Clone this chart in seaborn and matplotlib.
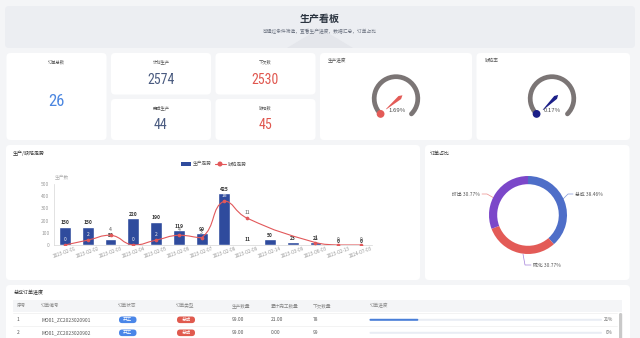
import numpy as np
import pandas as pd
import matplotlib
matplotlib.use('Agg')
import matplotlib.pyplot as plt
import seaborn as sns
from matplotlib.patches import FancyBboxPatch, Arc, Circle, Polygon, Rectangle, PathPatch
from matplotlib.path import Path
from matplotlib import font_manager

sns.set_theme(style='white')
plt.rcParams['font.family'] = ['Noto Sans CJK SC', 'DejaVu Sans']

# ---------------- data ----------------
page_title = '生产看板'
page_subtitle = '可通过条件筛选，查看生产进度，数据汇总，订单占比'
kpi_labels = ['订单总数', '计划生产', '下欠数', '完成生产', '缺陷数']
kpi_values = [26, 2574, 2530, 44, 45]
gauge_labels = ['生产进度', '缺陷率']
gauge_values = [1.69, 0.17]
trend_title = '生产/缺陷走势'
series_names = ['生产走势', '缺陷走势']
y_axis_name = '生产数'
dates = ['2023-02-01', '2023-02-02', '2023-02-03', '2023-02-04', '2023-02-05',
         '2023-02-06', '2023-02-07', '2023-02-08', '2023-02-09', '2023-02-14',
         '2023-03-09', '2023-06-03', '2023-02-13', '2024-07-03']
production = [150, 150, 50, 220, 190, 119, 99, 425, 11, 50, 23, 21, 0, 0]
defects = [0, 2, 4, 0, 2, 4, 3, 18, 11, np.nan, np.nan, 1, 0, 0]
share_title = '订单占比'
order_types = ['总成', '挤出', '硫化']
order_share = [38.46, 30.77, 30.77]
table_title = '总成订单进度'
table_columns = ['序号', '订单编号', '订单状态', '订单类型', '生产数量', '累计完工数量', '下欠数量', '订单进度']
row_no = [1, 2]
order_codes = ['MO01_ZC2023020901', 'MO01_ZC2023020902']
order_status = ['开工', '开工']
order_kind = ['总成', '总成']
qty_plan = [99.00, 99.00]
qty_done = [21.00, 0.00]
qty_left = [78, 99]
progress_pct = [21, 0]

# ---------------- layout helpers ----------------
W, H = 640, 338
fig = plt.figure(figsize=(6.4, 3.38), dpi=100)
fig.patch.set_facecolor('#f4f5f7')
bg = fig.add_axes([0, 0, 1, 1])
bg.set_xlim(0, W)
bg.set_ylim(H, 0)
bg.axis('off')


def px_axes(x0, y0, w, h):
    return fig.add_axes([x0 / W, 1 - (y0 + h) / H, w / W, h / H])


def panel(x0, y0, x1, y1, fc='white', r=4):
    bg.add_patch(FancyBboxPatch((x0, y0), x1 - x0, y1 - y0,
                                boxstyle=f'round,pad=0,rounding_size={r}',
                                fc=fc, ec='none', zorder=1))


TXT = '#555555'
names = {f.name for f in font_manager.fontManager.ttflist}
narrow = [n for n in ['Liberation Sans Narrow', 'Roboto Condensed', 'Open Sans Condensed',
                      'DejaVu Sans Condensed', 'Noto Sans Display'] if n in names]
NUMFONT = narrow + ['DejaVu Sans']

# ---------------- header ----------------
panel(5, 6, 635, 48, fc='#eceef2')
bg.add_patch(Polygon([(287, 48), (320, 28), (353, 48)], closed=True,
                     fc='#e4e6eb', ec='none', zorder=1.5))
bg.text(320, 19, page_title, ha='center', va='center', fontsize=7.2,
        fontweight='bold', color='#2b3440', zorder=3)
bg.text(320, 31, page_subtitle, ha='center', va='center', fontsize=3.4,
        color='#6b7280', zorder=3)

# ---------------- KPI cards ----------------
cards = [(6.5, 53, 106.5, 140), (111, 53, 211, 94.5), (215.5, 53, 315.5, 94.5),
         (111, 99, 211, 140), (215.5, 99, 315.5, 140)]
title_y = [62, 62, 62, 108, 108]
value_y = [101.5, 79.5, 79.5, 125, 125]
kpi_colors = ['#4b86e0', '#4a5b80', '#e0574f', '#4a5b80', '#e0574f']
kpi_sizes = [12, 10, 10, 10, 10]
for (x0, y0, x1, y1), lab, val, ty, vy, col, fs in zip(
        cards, kpi_labels, kpi_values, title_y, value_y, kpi_colors, kpi_sizes):
    panel(x0, y0, x1, y1)
    cx = (x0 + x1) / 2
    bg.text(cx, ty, lab, ha='center', va='center', fontsize=3.1, color=TXT, zorder=3)
    bg.text(cx, vy, f'{val}', ha='center', va='center', fontsize=fs,
            color=col, family=NUMFONT, fontstretch='condensed', zorder=3)

# ---------------- gauges ----------------
gauge_cards = [(320, 53, 472, 140), (476.5, 53, 630, 140)]
gauge_centers = [(396, 98.5), (552, 98.5)]
gauge_colors = ['#e35b57', '#1b1f88']
for (x0, y0, x1, y1), lab, val, (cx, cy), col in zip(
        gauge_cards, gauge_labels, gauge_values, gauge_centers, gauge_colors):
    panel(x0, y0, x1, y1)
    bg.text(x0 + 8, 60.5, lab, ha='left', va='center', fontsize=3.3, color=TXT, zorder=3)
    gx = px_axes(cx - 30, cy - 30, 60, 60)
    gx.set_xlim(-30, 30)
    gx.set_ylim(-30, 30)
    gx.axis('off')
    R = 21.8
    gx.add_patch(Arc((0, 0), 2 * R, 2 * R, theta1=-45, theta2=225, lw=3.4,
                     color='#7b7575', capstyle='round'))
    gx.add_patch(Circle((R * np.cos(np.radians(225)), R * np.sin(np.radians(225))),
                        3.2, color=col, zorder=4))
    ang = np.radians(225 - val / 100 * 270)
    u = np.array([np.cos(ang), np.sin(ang)])
    n = np.array([-u[1], u[0]])
    base = np.array([1.5, -1.0])
    pts = [base + u * -6.5, base + u * -3 + n * 2.0, base + u * 14.5 + n * 0.3,
           base + u * 15, base + u * 14.5 - n * 0.3, base + u * -3 - n * 2.0]
    gx.add_patch(Polygon(pts, closed=True, fc=col, ec='none', zorder=5))
    gx.text(0.8, -11.5, f'{val:.2f}%', ha='center', va='center', fontsize=4.3,
            color='#4a4a4a', zorder=6)

# ---------------- trend chart ----------------
panel(6, 145, 420, 280)
bg.text(13, 153.3, trend_title, ha='left', va='center', fontsize=3.6, color='#333333', zorder=3)
BAR = '#2f4b9d'
RED = '#e2585a'
bg.add_patch(Rectangle((181, 161.8), 10, 4.6, fc=BAR, ec='none', zorder=3))
bg.text(193, 164, series_names[0], ha='left', va='center', fontsize=3.4, color=TXT, zorder=3)
bg.plot([214.5, 225.5], [164, 164], color=RED, lw=0.8, zorder=3)
bg.add_patch(Circle((220, 164), 1.8, color=RED, zorder=4))
bg.text(228, 164, series_names[1], ha='left', va='center', fontsize=3.4, color=TXT, zorder=3)
bg.text(62, 178, y_axis_name, ha='center', va='center', fontsize=3.4, color='#b0b0b0', zorder=3)

df = pd.DataFrame({'date': dates, 'production': production, 'defects': defects})
ax = px_axes(53.6, 184, 318.8, 61)
ax.set_facecolor('none')
sns.barplot(data=df, x='date', y='production', color=BAR, saturation=1,
            width=0.52, ax=ax)
ax.set_ylim(0, 500)
ax.set_xlim(-0.5, len(dates) - 0.5)
ax.set_yticks(range(0, 501, 100))
ax.set_xlabel('')
ax.set_ylabel('')
for s in ['top', 'right']:
    ax.spines[s].set_visible(False)
for s in ['left', 'bottom']:
    ax.spines[s].set_color('#d6d6d6')
    ax.spines[s].set_linewidth(0.5)
ax.tick_params(axis='y', length=0, pad=3, labelsize=3.5, labelcolor='#999999')
ax.tick_params(axis='x', length=0, pad=0.5, labelsize=3.4, labelcolor='#999999')
for lab in ax.get_xticklabels():
    lab.set_rotation(20)
    lab.set_ha('center')
ax.bar_label(ax.containers[0], labels=[f'{v}' for v in production], padding=1,
             fontsize=3.6, fontweight='bold', color='#333333')

ax2 = ax.twinx()
ax2.set_ylim(0, 25)
valid = ~np.isnan(np.array(defects, dtype=float))
xs = np.arange(len(dates))[valid].astype(float)
ys = np.array(defects, dtype=float)[valid]
sx, sy = 318.8 / len(dates), 61 / 25
P = np.column_stack([xs * sx, ys * sy])
cps = []
for i in range(len(P)):
    prev = P[i - 1] if i > 0 else P[i]
    nxt = P[i + 1] if i < len(P) - 1 else P[i]
    v = nxt - prev
    d0 = np.linalg.norm(P[i] - prev)
    d1 = np.linalg.norm(P[i] - nxt)
    tot = d0 + d1 if (d0 + d1) > 0 else 1
    c0 = P[i] - v * d0 / tot * 0.5
    c1 = P[i] + v * d1 / tot * 0.5
    c0[1] = np.clip(c0[1], min(P[i][1], prev[1]), max(P[i][1], prev[1]))
    c1[1] = np.clip(c1[1], min(P[i][1], nxt[1]), max(P[i][1], nxt[1]))
    cps.append((c0, c1))
verts = [P[0]]
codes = [Path.MOVETO]
for i in range(len(P) - 1):
    verts += [cps[i][1], cps[i + 1][0], P[i + 1]]
    codes += [Path.CURVE4] * 3
verts = np.array(verts) / np.array([sx, sy])
ax2.add_patch(PathPatch(Path(verts, codes), fc='none', ec=RED, lw=0.8, zorder=4))
sns.scatterplot(x=xs, y=ys, ax=ax2, color=RED, s=7, linewidth=0, zorder=5, legend=False)
for xi, yi in zip(xs, ys):
    inside = yi * 20 + 60 < production[int(xi)]
    ax2.annotate(f'{int(yi)}', (xi, yi), xytext=(0, 2.2), textcoords='offset points',
                 ha='center', va='bottom', fontsize=3.6,
                 color='#f0f0f0' if inside else '#555555', zorder=6)
ax2.set_xlim(-0.5, len(dates) - 0.5)
ax2.set_ylim(0, 25)
ax2.axis('off')

# ---------------- donut ----------------
panel(425, 145, 629.5, 280)
bg.text(430, 153.3, share_title, ha='left', va='center', fontsize=3.6, color='#333333', zorder=3)
pie_colors = ['#4e6ec8', '#e35b57', '#7b47c9']
dax = px_axes(528 - 39, 215 - 39, 78, 78)
dax.pie(order_share, colors=pie_colors, startangle=90, counterclock=False,
        radius=1, wedgeprops=dict(width=0.21, edgecolor='none'))
dax.set_xlim(-1, 1)
dax.set_ylim(-1, 1)
dax.axis('off')
leaders = [[(563, 199), (568, 194), (573, 194)],
           [(494, 198), (487, 194), (482, 194)],
           [(523, 254), (525, 265), (531, 265)]]
label_pos = [(575, 194, 'left'), (480, 194, 'right'), (533, 265, 'left')]
for name, val, col, ln, (tx, ty, ha) in zip(order_types, order_share, pie_colors, leaders, label_pos):
    lx, ly = zip(*ln)
    bg.plot(lx, ly, color=col, lw=0.5, alpha=0.7, zorder=3)
    bg.text(tx, ty, f'{name} {val:.2f}%', ha=ha, va='center', fontsize=3.5, color=TXT, zorder=3)

# ---------------- table ----------------
panel(6, 285, 630, 348)
bg.text(14, 292.5, table_title, ha='left', va='center', fontsize=3.6, color='#333333', zorder=3)
bg.add_patch(Rectangle((13, 299.5), 609, 12.5, fc='#f4f5f7', ec='none', zorder=2))
col_x = [17, 41, 118, 176, 232, 271, 313, 370]
for cxp, name in zip(col_x, table_columns):
    bg.text(cxp, 305.7, name, ha='left', va='center', fontsize=3.3, color='#888888', zorder=3)
row_y = [319.8, 332.8]
for yline in [312.5, 326.3, 339.5]:
    bg.plot([13, 617], [yline, yline], color='#eeeeee', lw=0.5, zorder=2)
for i, ry in enumerate(row_y):
    bg.text(col_x[0], ry, f'{row_no[i]}', ha='left', va='center', fontsize=3.5, color=TXT, zorder=3)
    bg.text(col_x[1], ry, order_codes[i], ha='left', va='center', fontsize=3.5, color=TXT, zorder=3)
    bg.add_patch(FancyBboxPatch((119, ry - 3.3), 17.5, 6.6, boxstyle='round,pad=0,rounding_size=3.2',
                                fc='#4a86e8', ec='none', zorder=3))
    bg.text(127.8, ry, order_status[i], ha='center', va='center', fontsize=3.3, color='white', zorder=4)
    bg.add_patch(FancyBboxPatch((177, ry - 3.3), 18, 6.6, boxstyle='round,pad=0,rounding_size=3.2',
                                fc='#e05a4e', ec='none', zorder=3))
    bg.text(186, ry, order_kind[i], ha='center', va='center', fontsize=3.3, color='white', zorder=4)
    bg.text(col_x[4], ry, f'{qty_plan[i]:.2f}', ha='left', va='center', fontsize=3.5, color=TXT, zorder=3)
    bg.text(col_x[5], ry, f'{qty_done[i]:.2f}', ha='left', va='center', fontsize=3.5, color=TXT, zorder=3)
    bg.text(col_x[6], ry, f'{qty_left[i]}', ha='left', va='center', fontsize=3.5, color=TXT, zorder=3)
    bg.add_patch(FancyBboxPatch((369.5, ry - 1), 232.5, 2, boxstyle='round,pad=0,rounding_size=1',
                                fc='#e9edf4', ec='none', zorder=3))
    if progress_pct[i] > 0:
        bg.add_patch(FancyBboxPatch((369.5, ry - 1), 232.5 * progress_pct[i] / 100, 2,
                                    boxstyle='round,pad=0,rounding_size=1',
                                    fc='#4a7fd9', ec='none', zorder=4))
    bg.text(613, ry, f'{progress_pct[i]}%', ha='right', va='center', fontsize=3.3, color='#666666', zorder=3)
bg.add_patch(FancyBboxPatch((619, 313), 3.2, 40, boxstyle='round,pad=0,rounding_size=1.5',
                            fc='#c9c9c9', ec='none', zorder=3))

fig.savefig('out.png', dpi=100, facecolor=fig.get_facecolor())
